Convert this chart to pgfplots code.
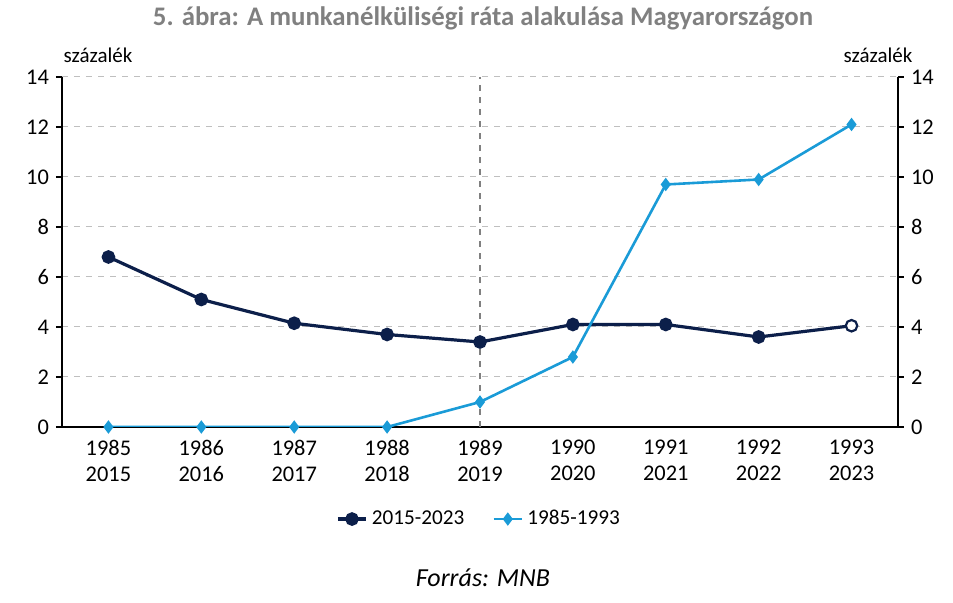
\documentclass[border=0pt]{standalone}
\usepackage{pgfplots}
\pgfplotsset{compat=1.18}
\usepackage{fontspec}
\setmainfont{Carlito}
\definecolor{navy}{HTML}{0C1F4A}
\definecolor{lblue}{HTML}{1A9BD7}
\definecolor{titlegray}{HTML}{808080}
\begin{document}
\begin{tikzpicture}
\useasboundingbox (-31pt,-88pt) rectangle (445.5pt,213.5pt);
\pgfplotsset{
  common/.style={
    at={(0,0)}, anchor=south west, scale only axis,
    width=418pt, height=175pt,
    xmin=-0.5, xmax=8.5, ymin=0, ymax=14,
    ytick={0,2,...,14},
    tick align=outside,
    major tick length=3pt,
    /pgf/number format/assume math mode=true,
    tick label style={font=\fontsize{11.2}{12}\selectfont},
    axis line style={black, line width=0.6pt},
    tick style={black, line width=0.6pt},
  }
}
\begin{axis}[common,
  axis x line*=bottom, axis y line*=left,
  xtick={0,...,8},
  xticklabels={{1985\\2015},{1986\\2016},{1987\\2017},{1988\\2018},{1989\\2019},{1990\\2020},{1991\\2021},{1992\\2022},{1993\\2023}},
  xticklabel style={align=center, font=\fontsize{11.2}{13}\selectfont},
  x tick style={draw=none},
  minor xtick={-0.5,0.5,...,8.5},
  minor x tick style={black, line width=0.6pt},
  minor tick length=3pt,
  ymajorgrids, grid style={dashed, gray!50, line width=0.5pt},
  legend style={at={(0.5,-0.263)}, anchor=center, draw=none, fill=none,
    legend columns=2, font=\fontsize{10.6}{12}\selectfont,
    /tikz/every even column/.append style={column sep=12pt}},
  legend cell align=left,
  legend image code/.code={\draw[mark repeat=2,mark phase=2,#1] plot coordinates {(0cm,0cm)(0.25cm,0cm)(0.5cm,0cm)};},
]
\addplot[gray, dashed, line width=0.6pt, forget plot] coordinates {(4,0) (4,14)};
\addplot[navy, line width=1.6pt, mark=*, mark size=2.6pt, mark options={solid, fill=navy}]
  coordinates {(0,6.8) (1,5.1) (2,4.15) (3,3.7) (4,3.4) (5,4.1) (6,4.1) (7,3.6) (8,4.05)};
\addlegendentry{2015-2023}
\addplot[lblue, line width=1.3pt, mark=diamond*, mark size=2.3pt, mark options={solid, fill=lblue}]
  coordinates {(0,0) (1,0) (2,0) (3,0) (4,1.0) (5,2.8) (6,9.7) (7,9.9) (8,12.1)};
\addlegendentry{1985-1993}
\addplot[navy, only marks, mark=*, mark size=2.6pt, mark options={fill=white, line width=0.6pt}, forget plot]
  coordinates {(8,4.05)};
\end{axis}
\begin{axis}[common,
  axis x line=none, axis y line*=right,
]
\addplot[draw=none, forget plot] coordinates {(0,0)};
\end{axis}
\node[font=\bfseries\fontsize{13.4}{16}\selectfont, text=titlegray] at (210.5pt,204.5pt) {5. ábra: A munkanélküliségi ráta alakulása Magyarországon};
\node[font=\fontsize{10.5}{12}\selectfont] at (18pt,186pt) {százalék};
\node[font=\fontsize{10.5}{12}\selectfont] at (408pt,186pt) {százalék};
\node[font=\itshape\fontsize{13}{15}\selectfont] at (210.5pt,-75.5pt) {Forrás: MNB};
\end{tikzpicture}
\end{document}
